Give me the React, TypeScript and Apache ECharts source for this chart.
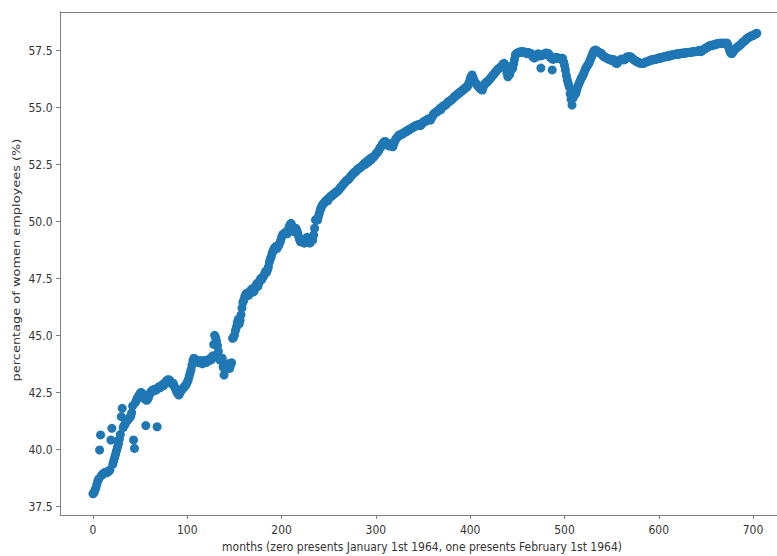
import React, { useEffect, useRef } from "react";
import * as echarts from "echarts";

const xTicks = [0, 100, 200, 300, 400, 500, 600, 700];
const yTicks = [37.5, 40.0, 42.5, 45.0, 47.5, 50.0, 52.5, 55.0, 57.5];

const xTitle = "months (zero presents January 1st 1964, one presents February 1st 1964)";
const yTitle = "percentage of women employees (%)";

// percentage of women employees, one value per month starting at month 0
const womenShare = [
  38.05, 38.1, 38.2, 38.3, 38.45, 38.6, 38.7, 39.97, 40.63, 38.85,
  38.9, 38.95, 38.95, 39.0, 39.0, 38.98, 39.02, 39.05, 39.1, 40.41,
  40.92, 39.35, 39.5, 39.65, 39.8, 39.95, 40.1, 40.25, 40.45, 40.65,
  41.43, 41.8, 40.95, 41.05, 41.1, 41.2, 41.25, 41.3, 41.35, 41.4,
  41.45, 41.6, 41.9, 40.41, 40.04, 42.05, 42.15, 42.25, 42.3, 42.38,
  42.45, 42.5, 42.45, 42.4, 42.35, 42.2, 41.04, 42.15, 42.2, 42.3,
  42.4, 42.5, 42.55, 42.6, 42.55, 42.6, 42.65, 42.6, 40.99, 42.7,
  42.75, 42.7, 42.75, 42.8, 42.85, 42.8, 42.9, 42.95, 43.0, 43.05,
  43.0, 43.05, 42.95, 42.9, 42.85, 42.9, 42.8, 42.7, 42.6, 42.5,
  42.45, 42.38, 42.45, 42.55, 42.6, 42.65, 42.7, 42.75, 42.8, 42.85,
  42.95, 43.05, 43.2, 43.35, 43.5, 43.7, 43.9, 44.0, 43.95, 43.9,
  43.85, 43.9, 43.8, 43.85, 43.9, 43.8, 43.75, 43.85, 43.9, 43.85,
  43.8, 43.85, 43.9, 43.95, 43.9, 44.0, 43.95, 44.1, 44.6, 45.0,
  44.9, 44.75, 44.55, 44.3, 44.0, 43.9, 43.95, 44.0, 43.6, 43.26,
  43.5, 43.6, 43.7, 43.75, 43.65, 43.55, 43.7, 43.8, 44.87, 44.9,
  45.0, 45.2, 45.35, 45.55, 45.7, 45.5, 45.65, 45.9, 46.2, 46.45,
  46.55, 46.7, 46.8, 46.85, 46.84, 46.75, 46.9, 46.95, 47.0, 47.05,
  46.9, 46.95, 47.1, 47.2, 47.28, 47.15, 47.3, 47.4, 47.5, 47.45,
  47.55, 47.6, 47.7, 47.8, 47.75, 47.86, 48.0, 48.2, 48.35, 48.45,
  48.6, 48.7, 48.8, 48.85, 48.9, 48.8, 48.89, 48.95, 49.05, 49.15,
  49.3, 49.4, 49.45, 49.47, 49.5, 49.55, 49.45, 49.6, 49.75, 49.85,
  49.91, 49.8, 49.65, 49.55, 49.6, 49.7, 49.62, 49.5, 49.35, 49.2,
  49.1, 49.15, 49.2, 49.1, 49.04, 49.15, 49.2, 49.3, 49.25, 49.1,
  49.05, 49.1, 49.2, 49.18, 49.4, 49.7, 50.06, 50.1, 50.05, 50.2,
  50.35, 50.5, 50.6, 50.7, 50.75, 50.79, 50.85, 50.9, 50.95, 50.9,
  51.0, 51.05, 51.1, 51.1, 51.15, 51.2, 51.2, 51.25, 51.3, 51.3,
  51.35, 51.4, 51.45, 51.5, 51.55, 51.6, 51.65, 51.7, 51.75, 51.8,
  51.81, 51.85, 51.9, 51.95, 52.0, 52.05, 52.1, 52.15, 52.15, 52.2,
  52.25, 52.3, 52.3, 52.35, 52.39, 52.4, 52.45, 52.5, 52.55, 52.5,
  52.6, 52.65, 52.6, 52.7, 52.75, 52.7, 52.8, 52.8, 52.83, 52.9,
  52.95, 53.0, 53.05, 53.1, 53.2, 53.25, 53.3, 53.4, 53.45, 53.49,
  53.5, 53.45, 53.4, 53.35, 53.3, 53.4, 53.35, 53.3, 53.27, 53.4,
  53.5, 53.6, 53.65, 53.7, 53.75, 53.8, 53.78, 53.8, 53.85, 53.85,
  53.9, 53.9, 53.95, 53.95, 54.0, 54.0, 54.05, 54.05, 54.1, 54.1,
  54.15, 54.15, 54.2, 54.2, 54.2, 54.25, 54.25, 54.2, 54.22, 54.3,
  54.35, 54.35, 54.4, 54.4, 54.45, 54.45, 54.5, 54.45, 54.44, 54.55,
  54.6, 54.7, 54.74, 54.75, 54.8, 54.8, 54.85, 54.9, 54.95, 54.9,
  55.0, 55.05, 55.05, 55.1, 55.1, 55.15, 55.2, 55.25, 55.25, 55.3,
  55.32, 55.35, 55.4, 55.45, 55.5, 55.5, 55.55, 55.6, 55.6, 55.65,
  55.7, 55.7, 55.75, 55.8, 55.8, 55.85, 55.9, 55.9, 56.0, 56.1,
  56.25, 56.35, 56.42, 56.3, 56.2, 56.1, 56.05, 56.0, 55.95, 55.9,
  55.85, 55.8, 55.78, 55.76, 55.9, 56.0, 56.05, 56.1, 56.1, 56.15,
  56.2, 56.25, 56.3, 56.35, 56.4, 56.45, 56.5, 56.55, 56.6, 56.65,
  56.7, 56.72, 56.75, 56.78, 56.85, 56.9, 56.93, 56.85, 56.7, 56.5,
  56.34, 56.5, 56.45, 56.6, 56.8, 56.7, 56.9, 57.1, 57.3, 57.35,
  57.37, 57.4, 57.42, 57.4, 57.45, 57.44, 57.4, 57.44, 57.42, 57.4,
  57.35, 57.38, 57.4, 57.37, 57.37, 57.3, 57.25, 57.2, 57.16, 57.2,
  57.25, 57.3, 57.35, 57.3, 57.25, 56.72, 57.28, 57.3, 57.3, 57.35,
  57.38, 57.37, 57.37, 57.35, 57.3, 57.2, 57.15, 56.64, 57.1, 57.15,
  57.15, 57.2, 57.18, 57.15, 57.15, 57.15, 57.12, 57.15, 57.15, 57.0,
  56.85, 56.64, 56.4, 56.2, 56.05, 55.9, 55.6, 55.35, 55.1, 55.4,
  55.5, 55.6, 55.6, 55.75, 55.9, 56.0, 56.1, 56.2, 56.3, 56.34,
  56.45, 56.55, 56.65, 56.75, 56.8, 56.88, 56.93, 57.05, 57.15, 57.25,
  57.35, 57.45, 57.5, 57.51, 57.48, 57.45, 57.42, 57.4, 57.38, 57.37,
  57.3, 57.25, 57.22, 57.2, 57.18, 57.15, 57.15, 57.1, 57.12, 57.1,
  57.05, 57.08, 57.1, 57.0, 56.95, 56.93, 56.93, 57.0, 57.05, 57.08,
  57.1, 57.12, 57.1, 57.08, 57.1, 57.15, 57.2, 57.22, 57.2, 57.22,
  57.22, 57.18, 57.15, 57.1, 57.08, 57.05, 57.02, 57.0, 56.98, 56.95,
  56.95, 56.93, 56.92, 56.93, 56.93, 56.95, 56.98, 57.0, 57.0, 57.02,
  57.05, 57.05, 57.08, 57.1, 57.08, 57.1, 57.12, 57.1, 57.12, 57.15,
  57.15, 57.18, 57.15, 57.18, 57.2, 57.22, 57.2, 57.22, 57.25, 57.22,
  57.25, 57.28, 57.25, 57.28, 57.3, 57.3, 57.32, 57.3, 57.32, 57.35,
  57.35, 57.32, 57.35, 57.37, 57.35, 57.38, 57.37, 57.37, 57.4, 57.38,
  57.4, 57.42, 57.4, 57.42, 57.4, 57.42, 57.45, 57.43, 57.45, 57.44,
  57.45, 57.47, 57.45, 57.5, 57.48, 57.44, 57.5, 57.52, 57.55, 57.58,
  57.6, 57.62, 57.65, 57.68, 57.7, 57.72, 57.7, 57.72, 57.75, 57.73,
  57.75, 57.78, 57.8, 57.78, 57.8, 57.82, 57.8, 57.8, 57.82, 57.8,
  57.81, 57.8, 57.82, 57.78, 57.65, 57.5, 57.4, 57.35, 57.37, 57.45,
  57.5, 57.55, 57.6, 57.62, 57.66, 57.7, 57.72, 57.75, 57.8, 57.85,
  57.88, 57.9, 57.95, 58.0, 58.03, 58.05, 58.08, 58.1, 58.12, 58.15,
  58.15, 58.18, 58.2, 58.22, 58.25,
];

const FONT_FAMILY = "DejaVu Sans";
const FONT_SIZE = 10.8;
const STRETCH = 1.2; // the reference's text is taller than it is wide
const TEXT = "#333333";
const SPINE = "#7f7f7f";

export default function App() {
  const ref = useRef<HTMLDivElement>(null);

  useEffect(() => {
    if (!ref.current) return;
    const chart = echarts.init(ref.current, undefined, { renderer: "svg" });
    const points = womenShare.map((v, i) => [i, v]);
    chart.setOption({
      animation: false,
      backgroundColor: "#ffffff",
      grid: { left: 60, top: 12, right: 0, bottom: 41, show: false },
      xAxis: [
        {
          type: "value",
          min: -35,
          max: 725.4,
          splitLine: { show: false },
          axisLine: { show: true, onZero: false, lineStyle: { color: SPINE, width: 1 } },
          axisTick: { show: true, length: 4, customValues: xTicks, lineStyle: { color: SPINE } },
          axisLabel: { show: false },
        },
        {
          type: "value",
          position: "top",
          min: -35,
          max: 725.4,
          splitLine: { show: false },
          axisLine: { show: true, onZero: false, lineStyle: { color: SPINE, width: 1 } },
          axisTick: { show: false },
          axisLabel: { show: false },
        },
      ],
      yAxis: {
        type: "value",
        min: 37.12,
        max: 59.18,
        splitLine: { show: false },
        axisLine: { show: true, onZero: false, lineStyle: { color: SPINE, width: 1 } },
        axisTick: { show: true, length: 4, customValues: yTicks, lineStyle: { color: SPINE } },
        axisLabel: { show: false },
      },
      series: [
        {
          type: "scatter",
          xAxisIndex: 0,
          data: points,
          symbol: "circle",
          symbolSize: 9,
          itemStyle: { color: "#1f77b4", opacity: 1 },
          clip: false,
        },
      ],
    });

    const textStyle = (text: string, align: string) => ({
      text,
      fill: TEXT,
      fontFamily: FONT_FAMILY,
      fontSize: FONT_SIZE,
      align,
      verticalAlign: "middle",
    });

    const xLabelEls = xTicks.map((t) => {
      const px = chart.convertToPixel({ xAxisIndex: 0 }, t) as number;
      return {
        type: "text",
        x: px,
        y: 530,
        scaleY: STRETCH,
        style: textStyle(String(t), "center"),
      };
    });
    const yLabelEls = yTicks.map((t) => {
      const py = chart.convertToPixel({ yAxisIndex: 0 }, t) as number;
      return {
        type: "text",
        x: 52.5,
        y: py,
        scaleY: STRETCH,
        style: textStyle(t.toFixed(1), "right"),
      };
    });

    chart.setOption({
      graphic: [
        ...xLabelEls,
        ...yLabelEls,
        {
          type: "text",
          x: 422,
          y: 547,
          scaleY: STRETCH,
          style: textStyle(xTitle, "center"),
        },
        {
          type: "text",
          x: 16,
          y: 260,
          rotation: Math.PI / 2,
          scaleX: STRETCH,
          style: textStyle(yTitle, "center"),
        },
      ],
    });
    return () => chart.dispose();
  }, []);

  return (
    <div
      ref={ref}
      style={{ position: "absolute", left: 0, top: 0, width: 777, height: 556, background: "#fff" }}
    />
  );
}
